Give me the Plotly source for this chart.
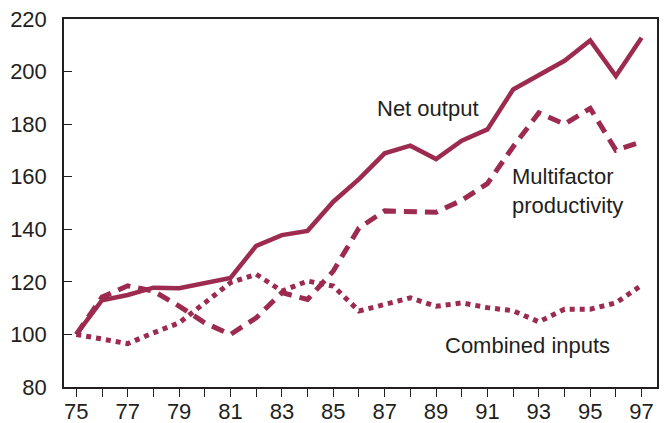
import plotly.graph_objects as go

years = list(range(1975, 1998))
net_output = [100, 113, 115, 117.8, 117.6, 119.4, 121.5, 133.7, 137.8, 139.4, 150.5, 159.1,
              168.9, 171.8, 166.7, 173.7, 178, 193.2, 198.7, 204.1, 211.8, 198.3, 212.9]
multifactor = [100, 114.2, 118.5, 116.5, 110.8, 104.4, 100, 106.3, 115.9, 113.3, 124.1, 140.5,
               147, 146.9, 146.5, 151, 157.4, 171.4, 184.3, 180, 186, 170.1, 173.3]
combined = [100, 98.2, 96.5, 100.6, 104.4, 112, 119.7, 122.9, 116.5, 120.3, 118.4, 108.9,
            111.5, 113.9, 110.7, 112, 110.2, 109, 104.8, 109.6, 109.6, 112, 118.7]
x_tick_vals = years
x_tick_text = [str(y % 100) if (y - 1975) % 2 == 0 else "" for y in years]
y_tick_vals = [80, 100, 120, 140, 160, 180, 200, 220]

color = "#9c2b4f"
font = "Liberation Sans, Arial, sans-serif"
txt = "#231f20"

fig = go.Figure()
fig.add_trace(go.Scatter(x=years, y=combined, mode="lines",
                         line=dict(color=color, width=5, dash="5px,5px")))
fig.add_trace(go.Scatter(x=years, y=multifactor, mode="lines",
                         line=dict(color=color, width=5, dash="13px,8px")))
fig.add_trace(go.Scatter(x=years, y=net_output, mode="lines",
                         line=dict(color=color, width=4.5)))

annos = [
    dict(x=1988.67, y=186.1, text="Net output", xanchor="center", yanchor="middle", align="center"),
    dict(x=1991.86, y=154.6, text="Multifactor<br>productivity", xanchor="left", yanchor="middle", align="left"),
    dict(x=1992.57, y=95.6, text="Combined inputs", xanchor="center", yanchor="middle", align="center"),
]
for a in annos:
    fig.add_annotation(showarrow=False, font=dict(family=font, size=22, color=txt), **a)

fig.update_layout(
    template="none",
    width=665, height=423,
    margin=dict(l=64, r=8, t=19, b=36, autoexpand=False),
    paper_bgcolor="white", plot_bgcolor="white",
    showlegend=False,
    font=dict(family=font, size=18, color=txt),
)
fig.update_xaxes(range=[1974.52, 1997.6], tickvals=x_tick_vals, ticktext=x_tick_text,
                 ticks="outside", ticklen=8, tickwidth=1.2, tickcolor="#231f20",
                 showline=True, linecolor="#231f20", linewidth=1.5, mirror=True,
                 showgrid=False, zeroline=False, automargin=False, ticklabelstandoff=-4,
                 tickfont=dict(family=font, size=22, color=txt))
fig.update_yaxes(range=[80, 220], tickvals=y_tick_vals,
                 ticks="inside", ticklen=8, tickwidth=1.2, tickcolor="#231f20",
                 showline=True, linecolor="#231f20", linewidth=1.5, mirror=True,
                 showgrid=False, zeroline=False, automargin=False, ticklabelstandoff=11,
                 tickfont=dict(family=font, size=22, color=txt))

fig.write_html("out.html", config={"displayModeBar": False},
               post_script="document.body.style.margin='0';document.body.style.overflow='hidden';")
